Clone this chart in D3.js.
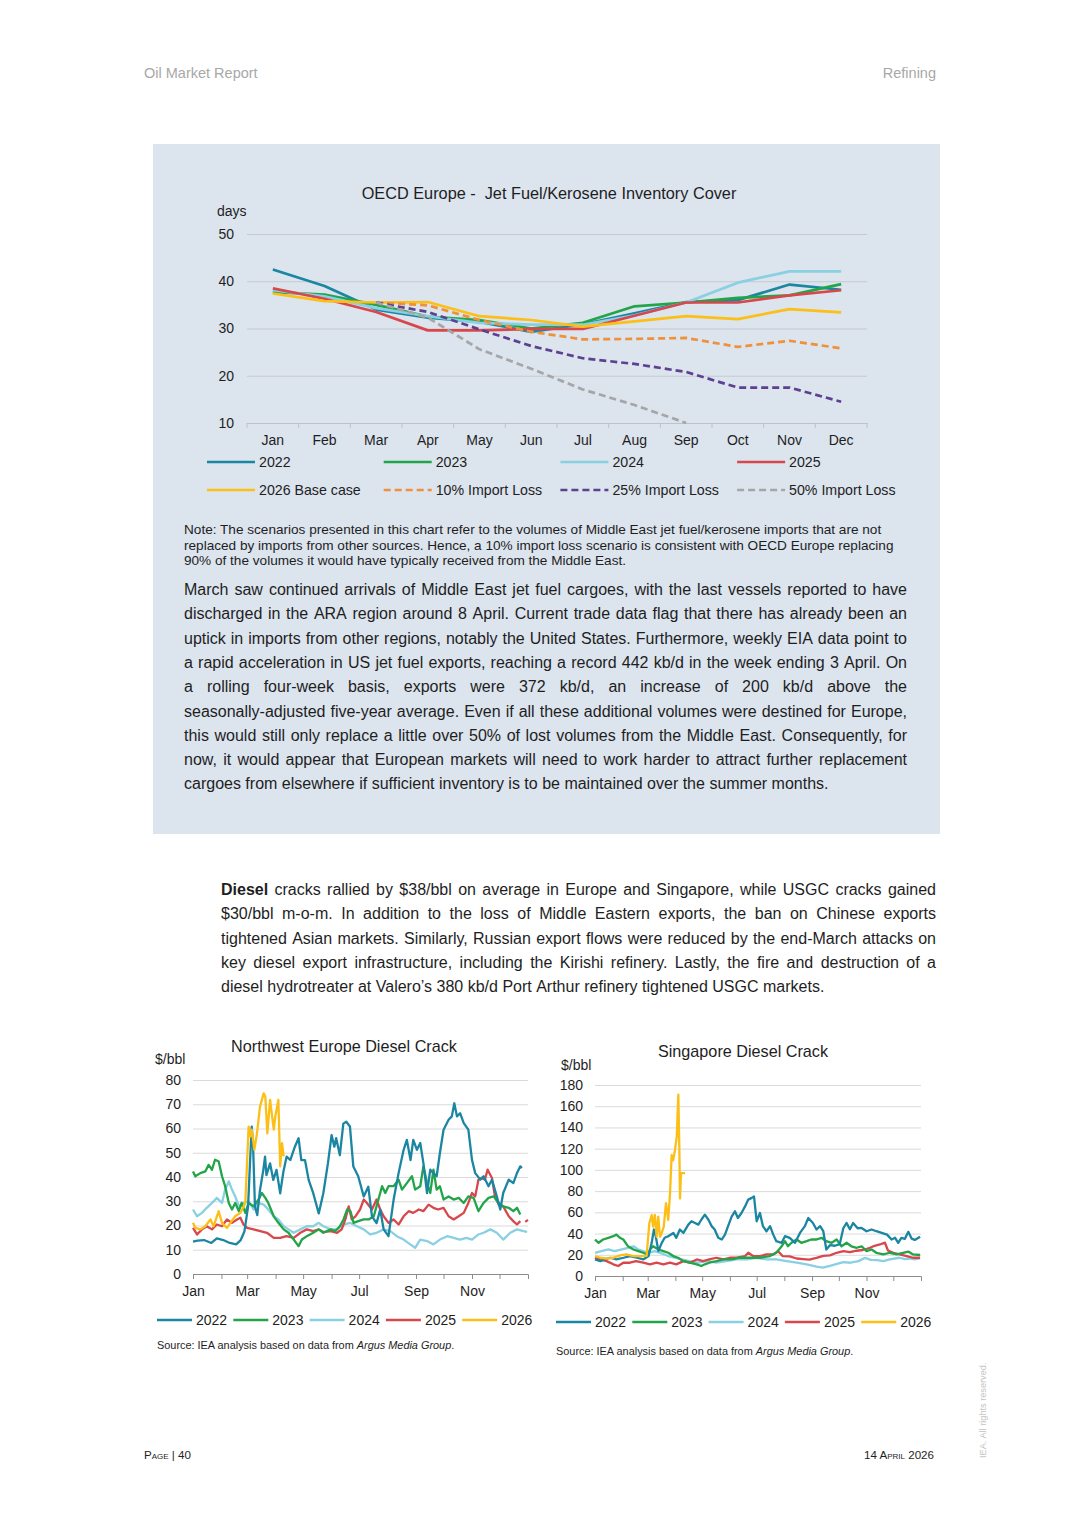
<!DOCTYPE html>
<html><head><meta charset="utf-8">
<script src="https://cdn.jsdelivr.net/npm/d3@7"></script>
<style>body{margin:0;background:#fff}svg{display:block}text{font-family:"Liberation Sans",Arial,sans-serif}</style>
</head><body>
<script>
// ---------------- DATA ----------------
const months = ["Jan","Feb","Mar","Apr","May","Jun","Jul","Aug","Sep","Oct","Nov","Dec"];
const coverTicks = [10,20,30,40,50];
const cover2022 = [42.5,39.0,34.0,32.3,31.4,29.3,30.9,33.2,35.6,36.0,39.3,38.2];
const cover2023 = [37.7,37.2,35.0,32.5,31.8,30.0,31.2,34.7,35.5,36.5,37.0,39.4];
const cover2024 = [38.1,36.8,34.3,32.6,31.2,30.8,30.8,32.8,35.5,39.7,42.1,42.1];
const cover2025 = [38.5,36.3,33.5,29.6,29.6,29.9,29.9,32.7,35.5,35.5,37.0,38.1];
const cover2026 = [37.4,35.8,35.5,35.6,32.6,31.8,30.4,31.5,32.6,32.0,34.1,33.4];
const loss10 = [null,null,35.5,34.9,31.8,29.3,27.7,27.8,28.0,26.1,27.4,25.8];
const loss25 = [null,null,35.5,33.5,29.8,26.3,23.7,22.5,20.8,17.5,17.5,14.5];
const loss50 = [null,null,35.5,32.3,25.6,21.5,17.1,13.8,10.0,null,null,null];

const monthStartDays = [0,31,59,90,120,151,181,212,243,273,304,334];
const dieselMonthLabels = ["Jan","","Mar","","May","","Jul","","Sep","","Nov",""];
const nweTicks = [0,10,20,30,40,50,60,70,80];
const sgTicks = [0,20,40,60,80,100,120,140,160,180];

// [day of year, $/bbl]
const nwe2022 = [[0,13.4],[5,13.8],[12,14],[20,12.8],[26,14.7],[33,14],[40,12.8],[47,12.2],[52,14],[56,17.5],[60,27.8],[62,45],[64,60.8],[65.5,52.5],[67.5,27.8],[70,24.3],[73,34.6],[76.6,42.9],[78.5,48.4],[80,40.8],[84,45.6],[87.5,38.8],[91,42.9],[95,33.3],[98.5,42.2],[102,48.4],[106,47],[111,52.5],[115,56],[118,47],[122,47],[126,38.8],[131,33.3],[137,25],[142,33.3],[147,45.6],[151,57.3],[154,52.5],[156,56],[160,49],[163.8,62],[167,62.8],[171,60.8],[174.7,44.3],[180,40.3],[186,32],[191,36],[195,23.8],[200,21],[204,26.6],[207.7,18.4],[213,15.6],[218.6,30.7],[224,41.6],[229.5,51.2],[233,55.3],[237,47],[240,55.3],[244,51.2],[247.6,54],[251,45.8],[255,33.4],[258.5,43],[262,41.6],[265.5,40.3],[269,49.9],[273,59.5],[278.5,63.6],[282,65],[284.7,70.4],[287.6,65],[291,66.3],[295,62.2],[300,59.5],[304,47],[307.5,41.6],[313,38.9],[316.6,40.3],[322,36.2],[325.7,38.9],[331,32],[334.8,26.6],[338,33.4],[344,38.9],[349,37.5],[353,41.6],[356.6,44.4],[358.4,43.7]];
const nwe2023 = [[0,42.3],[2.5,40.3],[8,41.6],[13.4,42.3],[17,45],[20.7,43],[24,47.1],[28,46.4],[31.6,40.3],[35,36.2],[39,29.3],[42.5,26.6],[46,29.3],[50,25.9],[53,29.3],[57,25.2],[60.6,29.3],[66,27.9],[71.5,30.7],[75,33.4],[78.8,31.4],[82,29.3],[88,23.8],[93,21.1],[98.8,18.4],[104,17],[109.7,14.2],[115,11.5],[118.7,14.2],[124,15.6],[131,17],[137,18.4],[142,17],[150,18.4],[155,17.7],[160,19.7],[164,22.5],[168,26.6],[171.6,25.9],[175,21.1],[180,21.8],[186,22.5],[191.5,22.5],[197,23.8],[202,30.7],[206,36.2],[209.5,33.4],[213,36.2],[218.6,36.2],[224,38.9],[227.7,34.8],[233,37.5],[238.6,40.3],[242,34.8],[247.6,36.2],[251,44.4],[255,37.5],[258.5,33.4],[262,43],[265.5,34.8],[269,36.2],[273,30.7],[278.5,32],[284,30.7],[289.5,31.4],[295,29.3],[300,32],[305.7,31.4],[311,25.9],[316.6,29.3],[322,31.4],[327.5,32],[333,29.3],[338,27.9],[344,27.3],[349,25.9],[353,27.3],[356.6,24.5]];
const nwe2024 = [[0,26.6],[4.4,23.8],[9.8,25.2],[15,27.3],[20.7,29.3],[26,31.4],[31.6,29.3],[35,34.8],[39,38.2],[42.5,34.8],[46,32],[50,27.9],[55,29.3],[60.6,30],[66,26.6],[71.5,29.3],[77,28.6],[82,26.6],[88,23.8],[93,22.5],[98.8,19.7],[104,18.4],[109.7,17],[117,18.4],[124,19.7],[131,19.7],[137,21.1],[142,19.7],[150,18.4],[157,18.4],[164,20.4],[171,21.1],[178.6,19.7],[186,18.4],[193,16.3],[200,17],[207.7,18.4],[215,17.7],[222,15.6],[229.5,14.2],[236.7,12.2],[242,10.8],[247.6,14.2],[255,13.6],[262,12.2],[269,14.2],[277,15.6],[284,14.9],[291,14.2],[298,14.9],[304,14.2],[311,16.3],[316.6,17],[324,18.4],[331,17],[338,14.2],[345.7,17],[353,18.4],[360,17.7],[364,17.4]];
const nwe2025 = [[0,19],[4.4,16.3],[9.8,18.4],[15,19.7],[20.7,18.4],[26,20.4],[31.6,19.7],[37,22.5],[42.5,21.1],[48,22.5],[51.6,23.2],[55,20.4],[59,19],[66,18.4],[73.3,17.7],[80.6,17],[88,14.9],[95,14.9],[102,15.6],[109.7,14.9],[117,17],[124,18.4],[131,17.7],[137,18.4],[142,17.3],[150,17.7],[157,17],[162,18.4],[166,22.5],[169.6,27.9],[173,22.5],[177,23.8],[182,26.6],[186,30.7],[189.5,29.3],[195,26.6],[200,30.7],[204,26.6],[207.7,23.8],[213,21.1],[218.6,22.5],[224,20.4],[229.5,23.8],[235,25.9],[240,25.2],[246,26.6],[251,25.9],[256.7,28.6],[262,27.3],[267,26.6],[273,27.3],[278.5,23.8],[284,22.5],[289.5,23.8],[295,25.2],[300,29.3],[304,33.4],[307.5,32],[311,38.9],[314.6,39.6],[318,38.9],[321,43],[325.7,39.6],[329,32],[333,28.6],[338,27.9],[344,23.8],[349,21.8],[353,20.4],[356.6,21.8],null,[362,21.5],[365,22.3]];
const nwe2026 = [[0,21.1],[2.5,19],[8,18.4],[13.4,19.7],[19,22.5],[22.5,19.7],[28,25.9],[31.6,21.1],[37,19],[40.7,21.1],[46,23.8],[51.6,25.2],[57,29.3],[60.6,60.8],[62.4,56.7],[64,59.5],[66.8,51.2],[69.7,58],[73,69],[77,74.5],[78.8,73.2],[81,58],[84,71.8],[88,59.5],[89.7,65],[93,71.8],[95,44.4],[97,54],[98.8,48.5]];

const sg2022 = [[0,15.6],[6,14],[11,15.6],[17,17.2],[24,15.6],[32,17.2],[39,18.8],[47,17.2],[54,15.6],[60,18.8],[63.4,31],[66,43.8],[68,37.5],[71,23.4],[74.6,31],[78,36],[82,37.5],[87.7,40.6],[91,36],[95,43.8],[99,40.6],[104.5,48.4],[108,51.6],[112,50],[115.7,48.4],[119,53],[123,57.8],[127,53],[130.6,47],[134,43.8],[138,36],[142,34.4],[145.5,39],[149,47],[153,56],[156.7,61],[160,54.7],[164,59.4],[168,65.6],[171.6,72],[175,73.4],[178,75],[181,51.6],[184.7,59.4],[188,47],[192,42.2],[196,47],[199.6,39],[203,32.8],[209,31.3],[212.7,37.5],[218,36],[224,31.3],[229.5,40.6],[235,47],[238.8,54.7],[244,50],[248,43.8],[252,47],[255.6,42.2],[259,25],[263,29],[268.7,28.5],[274,30],[278,45],[281.7,50],[285.4,44],[289,50],[294,45],[298.5,45.3],[304,42.2],[309.7,43.8],[315,42.2],[321,40.6],[327,39],[332,34.4],[336,36],[339.5,31.3],[343,36],[347,35],[350.8,41.6],[354.6,35.2],[358,34],[364,37]];
const sg2023 = [[0,34.4],[4,31.3],[9,34.4],[15,36],[20.5,37.5],[24,39],[28,36],[31.7,34.4],[37,28],[43,25],[48.5,23.4],[54,21.9],[58.6,20.3],[61.6,25],[65,28],[71,25],[76.5,23.4],[82,21.9],[87.7,18.8],[93,17.2],[99,14],[106,12.5],[114,11],[119,9.4],[123,11],[128,12.5],[136,14],[143.7,15.6],[153,15.6],[162,17.2],[173.5,17.2],[184.7,17.2],[196,18.8],[203,21.9],[209,28],[212.7,32.8],[216,28],[220,31.3],[225.7,34.4],[231,31.3],[237,32.8],[242,34.4],[248,34.4],[253.7,36],[259,32.8],[265,31.3],[270.5,34.4],[276,28],[281.7,31.3],[287,28],[293,26.6],[298.5,28],[304,23.4],[309.7,25],[315,21.9],[322.8,20.3],[330,21.9],[337.7,20.3],[345,21.9],[350.8,23],[356,20.3],[364,19.8]];
const sg2024 = [[0,21.9],[7,23.4],[15,25],[22,23.4],[30,25],[37,26.6],[43,28],[48.5,25],[54,23.4],[60,21.9],[67,23.4],[74.6,21.3],[82,18.8],[89,17.2],[97,15.6],[106,14],[115.7,12.5],[125,14],[136,12.5],[147,14],[158.6,15.6],[170,15.6],[181,17.2],[192,15.6],[203,15.6],[214.5,14],[226,12.5],[237,11],[248,8.8],[255,7.8],[263,9.5],[271,11.5],[278,13],[286,12.5],[295,14],[302,17],[309,15.2],[316,15],[322.8,14],[330,15.6],[341,17.2],[347,16],[352,16.5],[358,15.6],[364,16.5]];
const sg2025 = [[0,17.2],[6,15.6],[13,14],[20.5,11],[26,9.4],[31.7,12.5],[39,12.5],[46,14],[54,12.5],[61.6,11],[69,12.5],[76.5,11],[84,12.5],[91,11],[99,14],[106,12.5],[114,15.6],[121,14],[128,15.6],[136,17.2],[143.7,15.6],[151,17.2],[158.6,17.2],[168,18.8],[171.6,21.9],[177,18.8],[184.7,18.8],[192,20.3],[199.6,20.3],[205,23.4],[210,18.8],[218,18.5],[225.7,16.5],[233,16],[240,15.5],[248,17],[255.6,19],[263,19.5],[270.5,21.9],[278,23.4],[285.4,22.5],[293,23.8],[300,24.5],[308,26.6],[313,28.5],[319,29.7],[324.6,31.5],[328,24],[334,21.9],[341,20.3],[349,18.8],[356,17.2],[364,17.2]];
const sg2026 = [[0,18.8],[6,17.2],[13,16.3],[20.5,17.2],[28,19.4],[35,20.3],[43,18.8],[50,18.8],[57.8,19],[60.8,49.7],[63.5,57.5],[65,46.5],[67,57.5],[69,37],[70.8,56],[72.8,37],[74.5,40],[77,46.5],[79.5,68.6],[82,52.8],[84,78],[85.8,114],[87.5,109],[89.6,119],[91.5,131],[93.3,171],[94.4,122],[95.2,73],[96.3,97],[100.8,97]];

const boxText = [
"March saw continued arrivals of Middle East jet fuel cargoes, with the last vessels reported to have",
"discharged in the ARA region around 8 April. Current trade data flag that there has already been an",
"uptick in imports from other regions, notably the United States. Furthermore, weekly EIA data point to",
"a rapid acceleration in US jet fuel exports, reaching a record 442 kb/d in the week ending 3 April. On",
"a rolling four-week basis, exports were 372 kb/d, an increase of 200 kb/d above the",
"seasonally-adjusted five-year average. Even if all these additional volumes were destined for Europe,",
"this would still only replace a little over 50% of lost volumes from the Middle East. Consequently, for",
"now, it would appear that European markets will need to work harder to attract further replacement",
"cargoes from elsewhere if sufficient inventory is to be maintained over the summer months."];
const dieselText = [
"**Diesel** cracks rallied by $38/bbl on average in Europe and Singapore, while USGC cracks gained",
"$30/bbl m-o-m. In addition to the loss of Middle Eastern exports, the ban on Chinese exports",
"tightened Asian markets. Similarly, Russian export flows were reduced by the end-March attacks on",
"key diesel export infrastructure, including the Kirishi refinery. Lastly, the fire and destruction of a",
"diesel hydrotreater at Valero’s 380 kb/d Port Arthur refinery tightened USGC markets."];
const noteText = [
"Note: The scenarios presented in this chart refer to the volumes of Middle East jet fuel/kerosene imports that are not",
"replaced by imports from other sources. Hence, a 10% import loss scenario is consistent with OECD Europe replacing",
"90% of the volumes it would have typically received from the Middle East."];

// ---------------- STYLE ----------------
const C = {y2022:"#1b86a2", y2023:"#22a548", y2024:"#88d0e2", y2025:"#d8474b", y2026:"#fcbf17",
  l10:"#ef913b", l25:"#5d4190", l50:"#a6a6a6"};
const TXT = "#1e1e1e";
const FF = '"Liberation Sans",Arial,sans-serif';

const svg = d3.select("body").append("svg").attr("width",1080).attr("height",1527);
svg.append("rect").attr("width",1080).attr("height",1527).attr("fill","#fff");

// header
svg.append("text").attr("x",144).attr("y",78).attr("font-size",14.5).attr("fill","#a8a8a8").text("Oil Market Report");
svg.append("text").attr("x",936).attr("y",78).attr("font-size",14.5).attr("fill","#a8a8a8").attr("text-anchor","end").text("Refining");

// box
svg.append("rect").attr("x",153).attr("y",144).attr("width",787).attr("height",690).attr("fill","#dce4ee");

// ---------------- TOP CHART ----------------
const xb = d3.scaleBand().domain(months).range([247,867]).padding(0);
const yc = d3.scaleLinear().domain([10,50]).range([423,234]);
const topG = svg.append("g");
topG.append("text").attr("x",549).attr("y",199).attr("text-anchor","middle").attr("font-size",16.3).attr("fill",TXT)
  .attr("xml:space","preserve").text("OECD Europe -  Jet Fuel/Kerosene Inventory Cover");
topG.append("text").attr("x",217).attr("y",216).attr("font-size",14).attr("fill",TXT).text("days");

const yAx = topG.append("g").attr("transform","translate(247,0)")
  .call(d3.axisLeft(yc).tickValues(coverTicks).tickSize(-620).tickPadding(13).tickFormat(d3.format("d")));
yAx.select(".domain").remove();
yAx.selectAll("line").attr("stroke","#c6c9cf").attr("stroke-width",1);
yAx.selectAll("text").attr("font-size",14).attr("fill",TXT).attr("font-family",FF);

const xAx = topG.append("g").attr("transform","translate(0,423)")
  .call(d3.axisBottom(xb).tickSize(0).tickPadding(12));
xAx.select(".domain").attr("stroke","#bfc2c8");
xAx.selectAll("text").attr("font-size",14).attr("fill",TXT).attr("font-family",FF);
topG.append("g").selectAll("line").data(months.map(m=>xb(m)).concat([xb.range()[1]])).join("line")
  .attr("x1",d=>d).attr("x2",d=>d).attr("y1",423).attr("y2",428).attr("stroke","#bfc2c8");

const coverSeries = [
  {v:cover2022,c:C.y2022,d:null,l:"2022"},
  {v:cover2023,c:C.y2023,d:null,l:"2023"},
  {v:cover2024,c:C.y2024,d:null,l:"2024"},
  {v:cover2025,c:C.y2025,d:null,l:"2025"},
  {v:cover2026,c:C.y2026,d:null,l:"2026 Base case"},
  {v:loss10,c:C.l10,d:"7,4",l:"10% Import Loss"},
  {v:loss25,c:C.l25,d:"7,4",l:"25% Import Loss"},
  {v:loss50,c:C.l50,d:"7,4",l:"50% Import Loss"}];
const cline = d3.line().defined(d=>d[1]!=null).x(d=>xb(d[0])+xb.bandwidth()/2).y(d=>yc(d[1]));
coverSeries.forEach(s=>{
  topG.append("path").datum(s.v.map((v,i)=>[months[i],v])).attr("d",cline).attr("fill","none")
    .attr("stroke",s.c).attr("stroke-width",2.7).attr("stroke-dasharray",s.d).attr("stroke-linejoin","round");
});
// legend
coverSeries.forEach((s,i)=>{
  const col=i%4,row=Math.floor(i/4);
  const lx=207+col*176.7, ly=462+row*28;
  topG.append("line").attr("x1",lx).attr("x2",lx+48).attr("y1",ly).attr("y2",ly).attr("stroke",s.c)
    .attr("stroke-width",2.7).attr("stroke-dasharray",s.d);
  topG.append("text").attr("x",lx+52).attr("y",ly+5).attr("font-size",14.2).attr("fill",TXT).text(s.l);
});

// note
noteText.forEach((t,i)=>svg.append("text").attr("x",184).attr("y",534+i*15.5).attr("font-size",13.6).attr("fill",TXT).text(t));

// justified paragraphs
function para(lines,x0,x1,y0,lh,size){
  lines.forEach((line,i)=>{
    const words=line.split(" ");
    const t=svg.append("text").attr("y",y0+i*lh).attr("font-size",size).attr("fill",TXT);
    const last = i===lines.length-1;
    const spans = words.map(w=>{
      const bold=w.startsWith("**");
      const s=t.append("tspan").text(bold?w.replace(/\*\*/g,""):w);
      if(bold) s.attr("font-weight","bold");
      return s;
    });
    const widths = spans.map(s=>s.node().getComputedTextLength());
    const sum = d3.sum(widths);
    const gap = last ? size*0.278 : (x1-x0-sum)/(words.length-1);
    let x=x0;
    spans.forEach((s,k)=>{s.attr("x",x); x+=widths[k]+gap;});
  });
}
para(boxText,184,907,595,24.3,16);
para(dieselText,221,936,895,24.3,16);

// ---------------- DIESEL CHARTS ----------------
function diesel(cfg){
  const g=svg.append("g");
  const x=d3.scaleLinear().domain([0,365]).range([cfg.x0,cfg.x1]);
  const y=d3.scaleLinear().domain(cfg.dom).range([cfg.y0,cfg.y1]);
  g.append("text").attr("x",cfg.tx).attr("y",cfg.ty).attr("text-anchor","middle").attr("font-size",16.2).attr("fill",TXT).text(cfg.title);
  g.append("text").attr("x",cfg.ux).attr("y",cfg.uy).attr("font-size",14).attr("fill",TXT).text("$/bbl");
  const ya=g.append("g").attr("transform",`translate(${cfg.x0},0)`)
    .call(d3.axisLeft(y).tickValues(cfg.ticks).tickSize(-(cfg.x1-cfg.x0)).tickPadding(12).tickFormat(d3.format("d")));
  ya.select(".domain").remove();
  ya.selectAll("line").attr("stroke","#dadada");
  ya.selectAll("text").attr("font-size",14).attr("fill",TXT).attr("font-family",FF);
  const xa=g.append("g").attr("transform",`translate(0,${cfg.y0})`)
    .call(d3.axisBottom(x).tickValues(monthStartDays).tickSize(5).tickPadding(7).tickFormat((d,i)=>dieselMonthLabels[i]));
  xa.select(".domain").attr("stroke","#8c8c8c");
  xa.selectAll("line").attr("stroke","#8c8c8c");
  xa.selectAll("text").attr("font-size",14).attr("fill",TXT).attr("font-family",FF);
  const ln=d3.line().defined(d=>d!=null).x(d=>x(d[0])).y(d=>y(d[1]));
  const ser=[[cfg.s[0],C.y2022,"2022"],[cfg.s[1],C.y2023,"2023"],[cfg.s[2],C.y2024,"2024"],[cfg.s[3],C.y2025,"2025"],[cfg.s[4],C.y2026,"2026"]];
  [2,3,1,0,4].forEach(k=>{
    g.append("path").datum(ser[k][0]).attr("d",ln).attr("fill","none").attr("stroke",ser[k][1])
      .attr("stroke-width",2.3).attr("stroke-linejoin","round");
  });
  ser.forEach((s,i)=>{
    const lx=cfg.lx+i*76.3;
    g.append("line").attr("x1",lx).attr("x2",lx+35).attr("y1",cfg.ly).attr("y2",cfg.ly).attr("stroke",s[1]).attr("stroke-width",2.6);
    g.append("text").attr("x",lx+39).attr("y",cfg.ly+5).attr("font-size",14).attr("fill",TXT).text(s[2]);
  });
  const src=g.append("text").attr("x",cfg.lx).attr("y",cfg.sy).attr("font-size",10.9).attr("fill",TXT);
  src.append("tspan").text("Source: IEA analysis based on data from ");
  src.append("tspan").attr("font-style","italic").text("Argus Media Group");
  src.append("tspan").text(".");
}
diesel({title:"Northwest Europe Diesel Crack",tx:344,ty:1052,ux:155,uy:1064,x0:193,x1:528,y0:1274,y1:1080,dom:[0,80],
  ticks:nweTicks,s:[nwe2022,nwe2023,nwe2024,nwe2025,nwe2026],lx:157,ly:1320,sy:1349});
diesel({title:"Singapore Diesel Crack",tx:743,ty:1057,ux:561,uy:1070,x0:595,x1:921,y0:1276,y1:1085,dom:[0,180],
  ticks:sgTicks,s:[sg2022,sg2023,sg2024,sg2025,sg2026],lx:556,ly:1322,sy:1355});

// footer
svg.append("text").attr("x",144).attr("y",1459).attr("font-size",11.6).attr("fill",TXT).style("font-variant","small-caps").text("Page | 40");
svg.append("text").attr("x",934).attr("y",1459).attr("font-size",11.6).attr("fill",TXT).attr("text-anchor","end").style("font-variant","small-caps").text("14 April 2026");
svg.append("text").attr("transform","translate(986,1458) rotate(-90)").attr("font-size",9.2).attr("fill","#c4c4c4").text("IEA. All rights reserved.");
</script>
</body></html>
